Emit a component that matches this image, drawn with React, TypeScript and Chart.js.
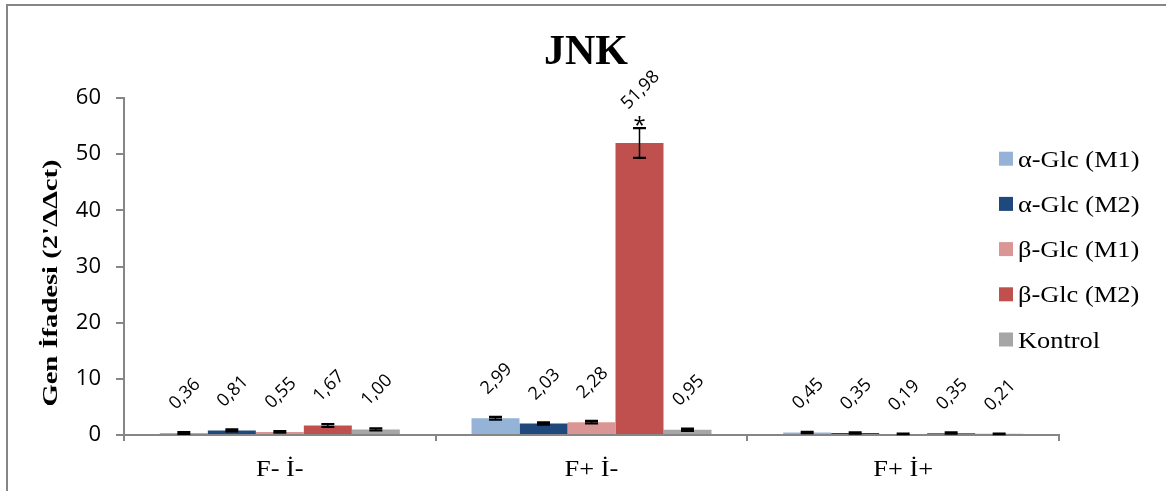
import React, { useEffect, useRef } from "react";
import { Chart, registerables } from "chart.js";

Chart.register(...registerables);

// Groups along the x axis
const categories = ["F- İ-", "F+ İ-", "F+ İ+"];

// Series names and fill colours
const seriesNames = ["α-Glc (M1)", "α-Glc (M2)", "β-Glc (M1)", "β-Glc (M2)", "Kontrol"];
const seriesColors = ["#95B3D7", "#1F497D", "#D99694", "#C0504D", "#A6A6A6"];

// Mean expression per group (2^-ΔΔct)
const alphaM1 = [0.36, 2.99, 0.45];
const alphaM2 = [0.81, 2.03, 0.35];
const betaM1 = [0.55, 2.28, 0.19];
const betaM2 = [1.67, 51.98, 0.35];
const kontrol = [1.0, 0.95, 0.21];

// Standard error per group
const alphaM1Err = [0.15, 0.25, 0.12];
const alphaM2Err = [0.18, 0.2, 0.1];
const betaM1Err = [0.15, 0.22, 0.06];
const betaM2Err = [0.25, 2.65, 0.1];
const kontrolErr = [0.2, 0.2, 0.06];

// Significance marks (series index, group index)
const significant: [number, number][] = [[3, 1]];

// Value axis
const yMin = 0;
const yMax = 60;
const yStep = 10;

const chartTitle = "JNK";
const yAxisTitle = "Gen İfadesi (2'ΔΔct)";

const seriesValues = [alphaM1, alphaM2, betaM1, betaM2, kontrol];
const seriesErrors = [alphaM1Err, alphaM2Err, betaM1Err, betaM2Err, kontrolErr];

const AXIS = "#868686";
const SERIF = "'Liberation Serif', 'Times New Roman', serif";
const SANS = "'Open Sans', 'Noto Sans', sans-serif";

const fmt = (v: number) => v.toFixed(2).replace(".", ",");

function stretchedText(
  ctx: CanvasRenderingContext2D,
  text: string,
  x: number,
  y: number,
  font: string,
  sx: number,
  align: CanvasTextAlign
) {
  ctx.save();
  ctx.translate(x, y);
  ctx.scale(sx, 1);
  ctx.font = font;
  ctx.textAlign = align;
  ctx.textBaseline = "alphabetic";
  ctx.fillStyle = "#000";
  ctx.fillText(text, 0, 0);
  ctx.restore();
}

const decorations = {
  id: "decorations",
  afterDatasetsDraw(chart: any) {
    const ctx: CanvasRenderingContext2D = chart.ctx;
    const y = chart.scales.y;
    const x = chart.scales.x;

    // error bars and value labels
    seriesValues.forEach((vals, si) => {
      const meta = chart.getDatasetMeta(si);
      meta.data.forEach((bar: any, gi: number) => {
        const v = vals[gi];
        const e = seriesErrors[si][gi];
        const yt = y.getPixelForValue(v + e);
        const yb = y.getPixelForValue(Math.max(v - e, 0));
        const bx = bar.x;
        ctx.save();
        ctx.strokeStyle = "#000";
        ctx.lineWidth = 1.5;
        ctx.beginPath();
        ctx.moveTo(bx, yt);
        ctx.lineTo(bx, yb);
        ctx.stroke();
        ctx.lineWidth = 2.2;
        ctx.beginPath();
        ctx.moveTo(bx - 6.5, yt);
        ctx.lineTo(bx + 6.5, yt);
        ctx.moveTo(bx - 6.5, yb);
        ctx.lineTo(bx + 6.5, yb);
        ctx.stroke();
        ctx.restore();

        ctx.save();
        ctx.translate(bx + 1, yt - 38);
        ctx.rotate(-Math.PI / 4);
        ctx.font = `18px ${SANS}`;
        ctx.textAlign = "center";
        ctx.textBaseline = "middle";
        ctx.fillStyle = "#000";
        ctx.fillText(fmt(v), 0, 0);
        ctx.restore();
      });
    });

    // significance asterisks
    significant.forEach(([si, gi]) => {
      const bar = chart.getDatasetMeta(si).data[gi];
      const yt = y.getPixelForValue(seriesValues[si][gi] + seriesErrors[si][gi]);
      ctx.save();
      ctx.font = `22px ${SANS}`;
      ctx.textAlign = "center";
      ctx.textBaseline = "alphabetic";
      const m = ctx.measureText("*");
      ctx.fillStyle = "#000";
      ctx.fillText("*", bar.x, yt - 2 - m.actualBoundingBoxDescent);
      ctx.restore();
    });

    // category labels
    categories.forEach((c, i) => {
      stretchedText(ctx, c, x.getPixelForValue(i), 476, `24px ${SERIF}`, 1.1, "center");
    });

    // title
    stretchedText(ctx, chartTitle, 586, 64, `bold 42px ${SERIF}`, 1, "center");

    // y axis title
    ctx.save();
    ctx.translate(57, 283);
    ctx.rotate(-Math.PI / 2);
    ctx.scale(1.3, 1);
    ctx.font = `bold 22px ${SERIF}`;
    ctx.textAlign = "center";
    ctx.textBaseline = "alphabetic";
    ctx.fillStyle = "#000";
    ctx.fillText(yAxisTitle, 0, 0);
    ctx.restore();

    // legend
    seriesNames.forEach((name, i) => {
      const cy = 158.7 + 45.2 * i;
      ctx.fillStyle = seriesColors[i];
      ctx.fillRect(999, cy - 7, 14, 14);
      stretchedText(ctx, name, 1018, cy + 8, `24px ${SERIF}`, 1.1, "left");
    });
  },
};

export default function App() {
  const ref = useRef<HTMLCanvasElement | null>(null);

  useEffect(() => {
    if (!ref.current) return;
    const chart = new Chart(ref.current, {
      type: "bar",
      data: {
        labels: categories,
        datasets: seriesNames.map((name, i) => ({
          label: name,
          data: seriesValues[i],
          backgroundColor: seriesColors[i],
          borderWidth: 0,
          categoryPercentage: 0.77,
          barPercentage: 1,
        })),
      },
      options: {
        responsive: false,
        animation: false,
        devicePixelRatio: 1,
        layout: { padding: { left: 0, right: 107, top: 98, bottom: 0 } },
        plugins: {
          legend: { display: false },
          title: { display: false },
          tooltip: { enabled: false },
        },
        scales: {
          x: {
            offset: true,
            grid: {
              offset: true,
              drawOnChartArea: false,
              drawTicks: true,
              tickLength: 6,
              color: AXIS,
              lineWidth: 2,
            },
            border: { color: AXIS, width: 2 },
            ticks: { display: false },
            afterFit: (s: any) => {
              s.height = 56;
            },
          },
          y: {
            min: yMin,
            max: yMax,
            ticks: {
              stepSize: yStep,
              color: "#000",
              padding: 15,
              font: { family: SANS, size: 22 },
            },
            grid: {
              drawOnChartArea: false,
              drawTicks: true,
              tickLength: 8,
              color: AXIS,
              lineWidth: 2,
            },
            border: { color: AXIS, width: 2 },
            afterFit: (s: any) => {
              s.width = 124;
            },
          },
        },
      },
      plugins: [decorations],
    } as any);
    return () => chart.destroy();
  }, []);

  return (
    <div
      style={{
        position: "fixed",
        left: 0,
        top: 0,
        width: 1166,
        height: 491,
        overflow: "hidden",
        background: "#fff",
      }}
    >
      <div
        style={{
          position: "absolute",
          left: 6,
          top: 4,
          width: 1300,
          height: 700,
          border: `2px solid ${AXIS}`,
        }}
      />
      <canvas
        ref={ref}
        width={1166}
        height={491}
        style={{ position: "absolute", left: 0, top: 0, display: "block" }}
      />
    </div>
  );
}
